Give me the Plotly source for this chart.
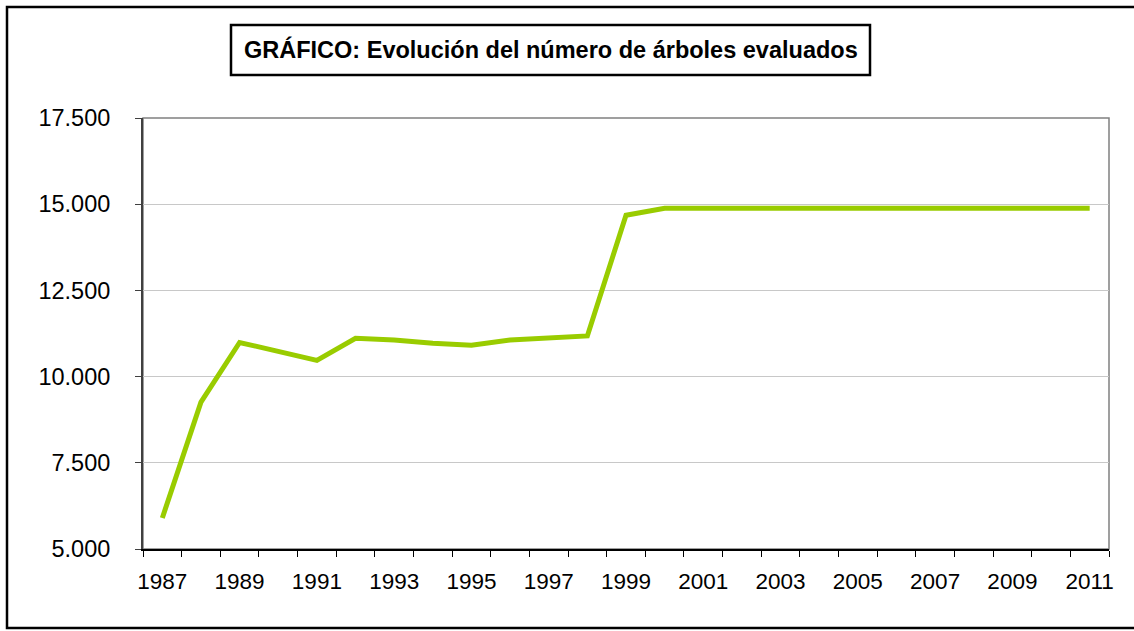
import plotly.graph_objects as go

years = list(range(1987, 2012))
arboles = [5900, 9260, 10990, 10730, 10470, 11110, 11060, 10970, 10910, 11060,
           11110, 11180, 14680, 14880, 14880, 14880, 14880, 14880, 14880, 14880,
           14880, 14880, 14880, 14880, 14880]
title_text = "GRÁFICO: Evolución del número de árboles evaluados"
x_labels = [str(y) for y in range(1987, 2012, 2)]
y_ticks = [5000, 7500, 10000, 12500, 15000, 17500]

W, H = 1134, 631
L, R, T, B = 143, 1109, 118, 549
pw, ph = R - L, B - T

def px(x):
    return (x - L) / pw

def py(y):
    return (B - y) / ph

fig = go.Figure()
fig.add_trace(go.Scatter(
    x=years, y=arboles, mode="lines",
    line=dict(color="#99CC00", width=5),
    hoverinfo="x+y", showlegend=False,
))

font = "Liberation Sans, Arial, sans-serif"
fig.update_layout(
    width=W, height=H,
    margin=dict(l=L, r=W - R, t=T, b=H - B),
    paper_bgcolor="white", plot_bgcolor="white",
    separators=",.",
    font=dict(family=font, size=23, color="black"),
    xaxis=dict(
        range=[1986.5, 2011.5],
        tickmode="array", tickvals=list(range(1987, 2012, 2)), ticktext=x_labels,
        ticks="", showgrid=False, zeroline=False,
        showline=True, linecolor="black", linewidth=1.5,
        minor=dict(tickmode="array", tickvals=[1986.5 + i for i in range(26)],
                   ticks="outside", ticklen=6, tickcolor="black", tickwidth=1, showgrid=False),
        tickfont=dict(family=font, size=22.5, color="black"),
        ticklabelstandoff=11,
    ),
    yaxis=dict(
        range=[5000, 17500],
        tickmode="array", tickvals=y_ticks,
        tickformat=",d",
        ticks="outside", ticklen=6, tickcolor="#404040", tickwidth=1,
        showgrid=True, gridcolor="#C8C8C8", gridwidth=1,
        zeroline=False,
        showline=True, linecolor="#404040", linewidth=2,
        tickfont=dict(family=font, size=23.5, color="black"),
        ticklabelstandoff=20,
    ),
    shapes=[
        dict(type="rect", xref="paper", yref="paper", x0=0, x1=1, y0=0, y1=1,
             line=dict(color="#808080", width=1.5), fillcolor="rgba(0,0,0,0)", layer="below"),
        dict(type="rect", xref="paper", yref="paper",
             x0=px(7), x1=px(1140), y0=py(7), y1=py(628),
             line=dict(color="black", width=2.5), fillcolor="rgba(0,0,0,0)"),
        dict(type="rect", xref="paper", yref="paper",
             x0=px(231), x1=px(870), y0=py(25), y1=py(75),
             line=dict(color="black", width=2.5), fillcolor="rgba(0,0,0,0)"),
    ],
    annotations=[
        dict(text="<b>" + title_text + "</b>", xref="paper", yref="paper",
             x=px(551), y=py(50), xanchor="center", yanchor="middle",
             showarrow=False, font=dict(family=font, size=23.5, color="black")),
    ],
)

fig.write_html("out.html", config={"displayModeBar": False},
               post_script="document.body.style.margin='0';document.body.style.overflow='hidden';")
